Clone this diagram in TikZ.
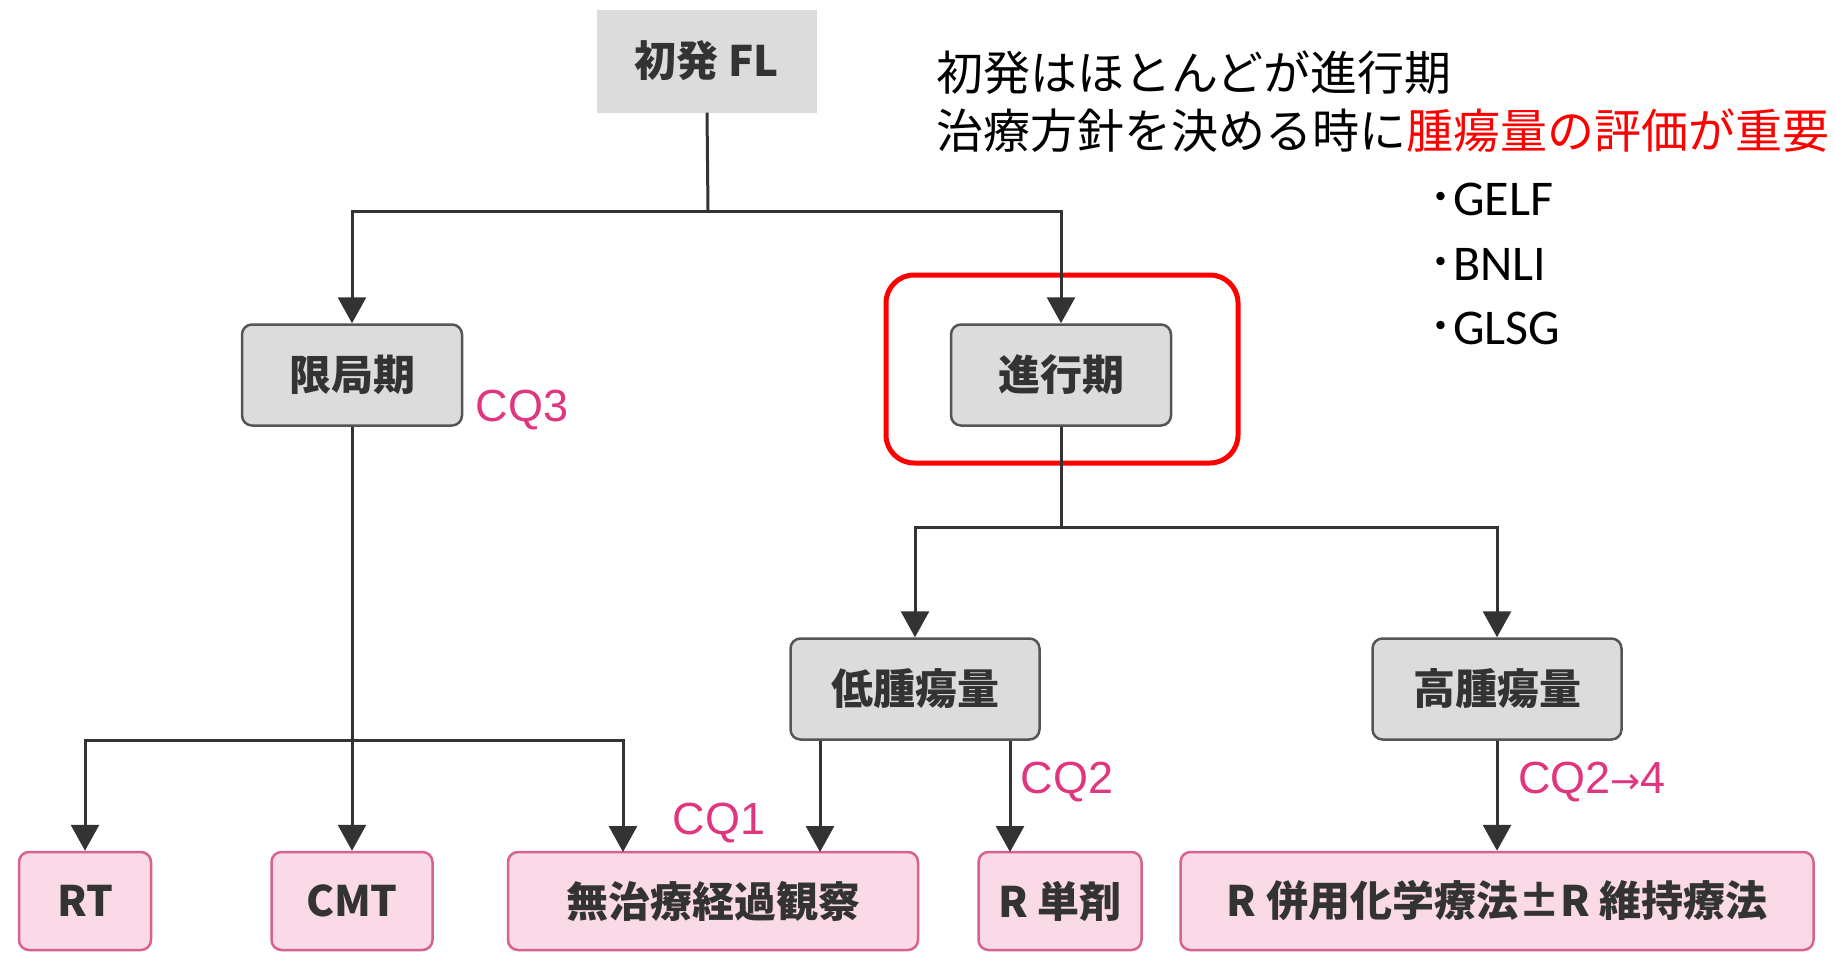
\documentclass[tikz,border=0pt]{standalone}
\usepackage{fontspec}
\usetikzlibrary{arrows.meta}
\newfontfamily\jp{Noto Sans CJK JP}
\newfontfamily\cqf{Liberation Sans}
\newfontfamily\djv{DejaVu Sans}
\setmainfont{Carlito}
\definecolor{lineg}{HTML}{333333}
\definecolor{gfill}{HTML}{DCDCDC}
\definecolor{gdraw}{HTML}{555555}
\definecolor{pfill}{HTML}{FADAE6}
\definecolor{pdraw}{HTML}{D8628F}
\definecolor{cqcol}{HTML}{E0357F}
\definecolor{txtg}{HTML}{333333}
\tikzset{
  boxtext/.style={font=\jp\bfseries\fontsize{42}{48}\selectfont, text=txtg, inner sep=0pt},
  flbox/.style={boxtext, fill=gfill, minimum width=220pt, minimum height=103pt},
  gbox/.style={boxtext, draw=gdraw, fill=gfill, line width=2.5pt, rounded corners=10pt, minimum height=101pt},
  pbox/.style={boxtext, draw=pdraw, fill=pfill, line width=2.5pt, rounded corners=10pt, minimum height=98pt},
  arr/.style={draw=lineg, line width=3pt, -{Triangle[width=28pt,length=26pt]}},
  ln/.style={draw=lineg, line width=3pt},
  cq/.style={text=cqcol, font=\cqf\fontsize{45}{45}\selectfont, inner sep=0pt},
  note/.style={anchor=west, inner sep=0pt, font=\jp\fontsize{47}{56}\selectfont},
  bul/.style={anchor=west, inner sep=0pt, font=\fontsize{50}{50}\selectfont}
}
\begin{document}
\begin{tikzpicture}[x=1pt,y=-1pt]
\useasboundingbox (0,0) rectangle (1835,953);
\fill[white] (0,0) rectangle (1835,953);

% nodes
\node[flbox] (fl) at (707,61) {初発 FL};
\node[gbox, minimum width=220pt] (loc) at (352,375) {限局期};
\node[gbox, minimum width=220pt] (adv) at (1061,375) {進行期};
\node[gbox, minimum width=249pt] (low) at (915,689) {低腫瘍量};
\node[gbox, minimum width=249pt] (high) at (1497,689) {高腫瘍量};

\node[pbox, minimum width=132pt] (rt) at (85,901) {RT};
\node[pbox, minimum width=161pt] (cmt) at (352,901) {CMT};
\node[pbox, minimum width=410pt] (obs) at (713,901) {無治療経過観察};
\node[pbox, minimum width=163pt] (rmono) at (1060,901) {R 単剤};
\node[pbox, minimum width=633pt] (rchemo) at (1497,901) {R 併用化学療法±R 維持療法};

% highlight
\draw[red, line width=5pt, rounded corners=28pt] (886,275) rectangle (1238,463);

% labels
\node[cq] (cq3) at (522,410) {CQ3};
\node[cq] (cq1) at (719,823) {CQ1};
\node[cq] (cq2) at (1067,782) {CQ2};
\node[cq] (cq24) at (1592,782) {CQ2{\djv\fontsize{36}{36}\selectfont →}4};

% notes
\node[note] (t1) at (936,73) {初発はほとんどが進行期};
\node[note] (t2) at (936,131) {治療方針を決める時に\textcolor{red}{腫瘍量の評価が重要}};
\node[bul] (g1) at (1428,199) {{\jp ･}GELF};
\node[bul] (g2) at (1428,264) {{\jp ･}BNLI};
\node[bul] (g3) at (1428,328) {{\jp ･}GLSG};

% connectors
\coordinate (j0) at (708,211);
\draw[ln] (fl.south) -- (j0);
\draw[arr] (j0) -| (loc.north);
\draw[arr] (j0) -| (adv.north);

\coordinate (j1) at (352,740);
\coordinate (m1) at (623,852);
\draw[arr] (loc.south) -- (cmt.north);
\draw[arr] (j1) -| (rt.north);
\draw[arr] (j1) -| (m1);

\coordinate (j2) at (1061,527);
\draw[ln] (adv.south) -- (j2);
\draw[arr] (j2) -| (low.north);
\draw[arr] (j2) -| (high.north);

\coordinate (m2) at (820,852);
\coordinate (r1) at (1010,852);
\draw[arr] (low.south -| m2) -- (m2);
\draw[arr] (low.south -| r1) -- (r1);
\draw[arr] (high.south) -- (rchemo.north);
\end{tikzpicture}
\end{document}
